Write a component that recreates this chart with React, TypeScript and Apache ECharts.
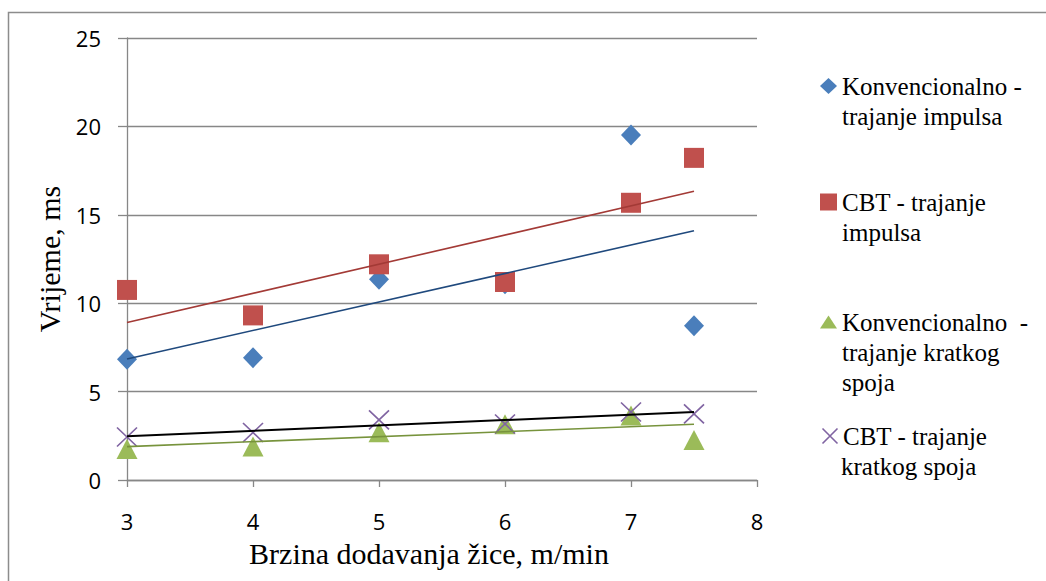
import React, { useEffect, useRef } from "react";
import * as echarts from "echarts";

const xValues = [3, 4, 5, 6, 7, 7.5];
const konvImpuls = [6.83, 6.92, 11.36, 11.1, 19.52, 8.72];
const cbtImpuls = [10.75, 9.31, 12.2, 11.2, 15.68, 18.22];
const konvKratki = [1.75, 1.9, 2.7, 3.15, 3.65, 2.26];
const cbtKratki = [2.43, 2.69, 3.4, 3.17, 3.85, 3.74];

const seriesNames = [
  "Konvencionalno - trajanje impulsa",
  "CBT - trajanje impulsa",
  "Konvencionalno  - trajanje kratkog spoja",
  "CBT - trajanje kratkog spoja",
];
const legendLines = [
  ["Konvencionalno -", "trajanje impulsa"],
  ["CBT - trajanje", "impulsa"],
  ["Konvencionalno  -", "trajanje kratkog", "spoja"],
  ["CBT - trajanje", "kratkog spoja"],
];
const xTitle = "Brzina dodavanja žice, m/min";
const yTitle = "Vrijeme, ms";

const markerColors = ["#4A7EBB", "#C0504D", "#9BBB59", "#8064A2"];
const trendColors = ["#1F497D", "#A33A36", "#77933C", "#000000"];

function pairs(ys: number[]) {
  return xValues.map((x, i) => [x, ys[i]]);
}

function trend(ys: number[]) {
  const n = xValues.length;
  const mx = xValues.reduce((a, b) => a + b, 0) / n;
  const my = ys.reduce((a, b) => a + b, 0) / n;
  let sxy = 0;
  let sxx = 0;
  for (let i = 0; i < n; i++) {
    sxy += (xValues[i] - mx) * (ys[i] - my);
    sxx += (xValues[i] - mx) * (xValues[i] - mx);
  }
  const b = sxy / sxx;
  const a = my - b * mx;
  const x0 = Math.min(...xValues);
  const x1 = Math.max(...xValues);
  return [
    [x0, a + b * x0],
    [x1, a + b * x1],
  ];
}

const X_PATH = "path://M0,0L10,10M10,0L0,10";
const SERIF = '"Liberation Serif", "Times New Roman", serif';

export default function App() {
  const ref = useRef<HTMLDivElement>(null);
  useEffect(() => {
    document.body.style.margin = "0";
    const chart = echarts.init(ref.current!, null, { renderer: "svg" });
    const allData = [konvImpuls, cbtImpuls, konvKratki, cbtKratki];
    const symbols = ["diamond", "rect", "triangle", X_PATH];
    const sizes: any[] = [[20, 21], 20, [21, 20], [20, 19]];

    const scatterSeries = allData.map((d, i) => ({
      type: "scatter",
      name: seriesNames[i],
      data: pairs(d),
      symbol: symbols[i],
      symbolSize: sizes[i],
      itemStyle:
        i === 3
          ? { color: "none", borderColor: markerColors[i], borderWidth: 1.6, opacity: 1 }
          : { color: markerColors[i], opacity: 1 },
      z: 2,
    }));
    const trendSeries = allData.map((d, i) => ({
      type: "line",
      name: seriesNames[i] + " (trend)",
      data: trend(d),
      symbol: "none",
      silent: true,
      lineStyle: { color: trendColors[i], width: i === 3 ? 2 : 1.6 },
      z: 3,
    }));

    const iconCenters = [86, 202, 322, 436];
    const iconSizes = [
      [17, 16],
      [17, 17],
      [17, 13],
      [16, 15],
    ];
    const lineH = 30;
    const richStyle = {
      s: { fontFamily: SERIF, fontSize: 25, lineHeight: lineH, color: "#000" },
    };
    const wrap = (ls: string[]) => ls.map((l) => `{s|${l}}`).join("\n");
    const legends: any[] = [];
    legendLines.forEach((lines, i) => {
      legends.push({
        show: true,
        left: 820,
        top: iconCenters[i] - lineH / 2,
        padding: 0,
        itemWidth: iconSizes[i][0],
        itemHeight: iconSizes[i][1],
        selectedMode: false,
        data: [
          {
            name: seriesNames[i],
            icon: symbols[i],
            itemStyle:
              i === 3
                ? { color: "none", borderColor: markerColors[i], borderWidth: 1.6 }
                : { color: markerColors[i], borderWidth: 0 },
          },
        ],
        formatter: () => wrap([lines[0]]),
        textStyle: {
          fontFamily: SERIF,
          fontSize: 25,
          lineHeight: lineH,
          color: "#000",
          rich: richStyle,
        },
      });
      legends.push({
        show: true,
        left: 820,
        top: iconCenters[i] + lineH / 2,
        padding: 0,
        itemWidth: iconSizes[i][0],
        itemHeight: 2,
        selectedMode: false,
        data: [
          {
            name: seriesNames[i],
            icon: "rect",
            itemStyle: { color: "rgba(0,0,0,0)", borderWidth: 0 },
          },
        ],
        formatter: () => wrap(lines.slice(1)),
        textStyle: {
          fontFamily: SERIF,
          fontSize: 25,
          lineHeight: lineH,
          color: "#000",
          rich: richStyle,
        },
      });
    });

    chart.setOption({
      animation: false,
      backgroundColor: "#fff",
      grid: { left: 127, right: 289, top: 38, bottom: 101 },
      legend: legends,
      xAxis: {
        type: "value",
        min: 3,
        max: 8,
        interval: 1,
        name: xTitle,
        nameLocation: "middle",
        nameGap: 58,
        nameTextStyle: {
          fontFamily: SERIF,
          fontSize: 30,
          color: "#000",
          padding: [0, 26, 0, 0],
        },
        axisLine: { show: true, onZero: false, lineStyle: { color: "#878787", width: 1.3 } },
        axisTick: { show: true, length: 7, lineStyle: { color: "#878787", width: 1.3 } },
        splitLine: { show: false },
        axisLabel: {
          margin: 30,
          fontFamily: '"Open Sans", sans-serif',
          fontSize: 22,
          color: "#000",
        },
      },
      yAxis: {
        type: "value",
        min: 0,
        max: 25,
        interval: 5,
        name: yTitle,
        nameLocation: "middle",
        nameGap: 54,
        nameRotate: 90,
        nameTextStyle: {
          fontFamily: SERIF,
          fontSize: 30,
          color: "#000",
        },
        axisLine: { show: true, onZero: false, lineStyle: { color: "#878787", width: 1.3 } },
        axisTick: { show: true, length: 9, lineStyle: { color: "#878787", width: 1.3 } },
        splitLine: { show: true, lineStyle: { color: "#878787", width: 1.3 } },
        axisLabel: {
          margin: 26,
          fontFamily: '"Open Sans", sans-serif',
          fontSize: 22,
          color: "#000",
        },
      },
      graphic: [
        {
          type: "rect",
          z: -10,
          shape: { x: 8.5, y: 12.5, width: 1100, height: 700 },
          style: { fill: "none", stroke: "#8C8C8C", lineWidth: 1.5 },
        },
      ],
      series: [...scatterSeries, ...trendSeries],
    });
    return () => chart.dispose();
  }, []);
  return <div ref={ref} style={{ width: 1046, height: 581 }} />;
}
